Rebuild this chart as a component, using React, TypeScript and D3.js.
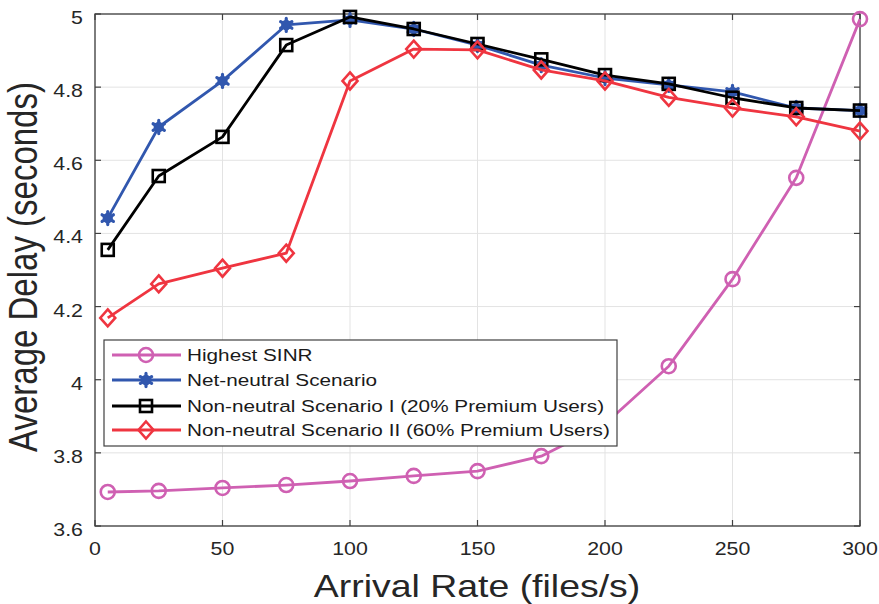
import React from "react";
import * as d3 from "d3";

const arrivalRates = [5, 25, 50, 75, 100, 125, 150, 175, 200, 225, 250, 275, 300];
const highestSINR = [3.693, 3.696, 3.704, 3.712, 3.723, 3.737, 3.75, 3.791, 3.879, 4.037, 4.275, 4.552, 4.986];
const netNeutral = [4.442, 4.691, 4.817, 4.97, 4.984, 4.959, 4.915, 4.86, 4.825, 4.806, 4.787, 4.743, 4.736];
const nonNeutralI = [4.355, 4.557, 4.664, 4.915, 4.992, 4.959, 4.918, 4.876, 4.833, 4.809, 4.771, 4.743, 4.736];
const nonNeutralII = [4.169, 4.262, 4.305, 4.346, 4.817, 4.904, 4.902, 4.847, 4.817, 4.772, 4.743, 4.719, 4.68];
const xTicks = [0, 50, 100, 150, 200, 250, 300];
const yTicks = [3.6, 3.8, 4, 4.2, 4.4, 4.6, 4.8, 5];
const seriesNames = [
  "Highest SINR",
  "Net-neutral Scenario",
  "Non-neutral Scenario I (20% Premium Users)",
  "Non-neutral Scenario II (60% Premium Users)",
];

const W = 879;
const H = 604;
const L = 95, R = 860, T = 14, B = 526;
const FONT = "'Liberation Sans', Arial, Helvetica, sans-serif";
const SX = 1.22;

type Kind = "circle" | "star" | "square" | "diamond";
const series: { name: string; values: number[]; color: string; kind: Kind }[] = [
  { name: seriesNames[0], values: highestSINR, color: "#cf60b2", kind: "circle" },
  { name: seriesNames[1], values: netNeutral, color: "#3157ae", kind: "star" },
  { name: seriesNames[2], values: nonNeutralI, color: "#000000", kind: "square" },
  { name: seriesNames[3], values: nonNeutralII, color: "#ef3540", kind: "diamond" },
];

function Marker({ kind, x, y, color }: { kind: Kind; x: number; y: number; color: string }) {
  if (kind === "circle") {
    return <circle cx={x} cy={y} r={7} fill="none" stroke={color} strokeWidth={2.6} />;
  }
  if (kind === "star") {
    const p = d3.symbol(d3.symbolAsterisk, 120)()!;
    return (
      <g transform={`translate(${x},${y})`}>
        <circle r={5.2} fill={color} />
        <path d={p} fill="none" stroke={color} strokeWidth={3.2} strokeLinecap="round" />
      </g>
    );
  }
  if (kind === "square") {
    return <rect x={x - 6} y={y - 6} width={12} height={12} fill="none" stroke={color} strokeWidth={2.6} />;
  }
  return (
    <path
      d={`M${x},${y - 8.5}L${x + 7.5},${y}L${x},${y + 8.5}L${x - 7.5},${y}Z`}
      fill="none"
      stroke={color}
      strokeWidth={2.6}
    />
  );
}

export default function App() {
  const x = d3.scaleLinear().domain([0, 300]).range([L, R]);
  const y = d3.scaleLinear().domain([3.6, 5]).range([B, T]);
  const line = d3
    .line<number>()
    .x((_, i) => x(arrivalRates[i]))
    .y((d) => y(d));

  const legX = 104, legY = 340, legW = 513, legH = 106;
  const rowY = [355, 380, 406, 430];

  return (
    <div style={{ position: "absolute", left: 0, top: 0 }}>
      <svg width={W} height={H} style={{ display: "block", background: "#fff" }}>
        {/* grid */}
        {xTicks.map((t) => (
          <line key={"gx" + t} x1={x(t)} x2={x(t)} y1={T} y2={B} stroke="#e3e3e3" strokeWidth={1} />
        ))}
        {yTicks.map((t) => (
          <line key={"gy" + t} x1={L} x2={R} y1={y(t)} y2={y(t)} stroke="#e3e3e3" strokeWidth={1} />
        ))}
        {/* frame */}
        <rect x={L} y={T} width={R - L} height={B - T} fill="none" stroke="#404040" strokeWidth={1.3} />
        {/* ticks */}
        {xTicks.map((t) => (
          <g key={"tx" + t}>
            <line x1={x(t)} x2={x(t)} y1={B} y2={B - 6} stroke="#404040" strokeWidth={1.2} />
            <line x1={x(t)} x2={x(t)} y1={T} y2={T + 6} stroke="#404040" strokeWidth={1.2} />
          </g>
        ))}
        {yTicks.map((t) => (
          <g key={"ty" + t}>
            <line x1={L} x2={L + 6} y1={y(t)} y2={y(t)} stroke="#404040" strokeWidth={1.2} />
            <line x1={R} x2={R - 6} y1={y(t)} y2={y(t)} stroke="#404040" strokeWidth={1.2} />
          </g>
        ))}
        {/* tick labels */}
        {xTicks.map((t) => (
          <text
            key={"lx" + t}
            transform={`translate(${x(t)},555) scale(${SX},1)`}
            textAnchor="middle"
            fontFamily={FONT}
            fontSize={17.5}
            fill="#262626"
          >
            {t}
          </text>
        ))}
        {yTicks.map((t) => (
          <text
            key={"ly" + t}
            transform={`translate(83,${y(t) + 10}) scale(${SX},1)`}
            textAnchor="end"
            fontFamily={FONT}
            fontSize={17.5}
            fill="#262626"
          >
            {t}
          </text>
        ))}
        {/* axis labels */}
        <text
          transform={`translate(477,597) scale(1.17,1)`}
          textAnchor="middle"
          fontFamily={FONT}
          fontSize={32}
          fill="#262626"
        >
          Arrival Rate (files/s)
        </text>
        <text
          transform={`translate(37,267) scale(${SX},1) rotate(-90)`}
          textAnchor="middle"
          fontFamily={FONT}
          fontSize={33}
          fill="#262626"
        >
          Average Delay (seconds)
        </text>
        {/* series */}
        {series.map((s) => (
          <g key={s.name}>
            <path d={line(s.values)!} fill="none" stroke={s.color} strokeWidth={2.8} strokeLinejoin="round" />
            {s.values.map((v, i) => (
              <Marker key={i} kind={s.kind} x={x(arrivalRates[i])} y={y(v)} color={s.color} />
            ))}
          </g>
        ))}
        {/* legend */}
        <rect x={legX} y={legY} width={legW} height={legH} fill="#fff" stroke="#404040" strokeWidth={1.2} />
        {series.map((s, i) => (
          <g key={"leg" + i}>
            <line x1={112} x2={181} y1={rowY[i]} y2={rowY[i]} stroke={s.color} strokeWidth={2.8} />
            <Marker kind={s.kind} x={146} y={rowY[i]} color={s.color} />
            <text
              transform={`translate(187,${rowY[i] + 6}) scale(${SX},1)`}
              fontFamily={FONT}
              fontSize={17}
              fill="#1a1a1a"
            >
              {s.name}
            </text>
          </g>
        ))}
      </svg>
    </div>
  );
}
